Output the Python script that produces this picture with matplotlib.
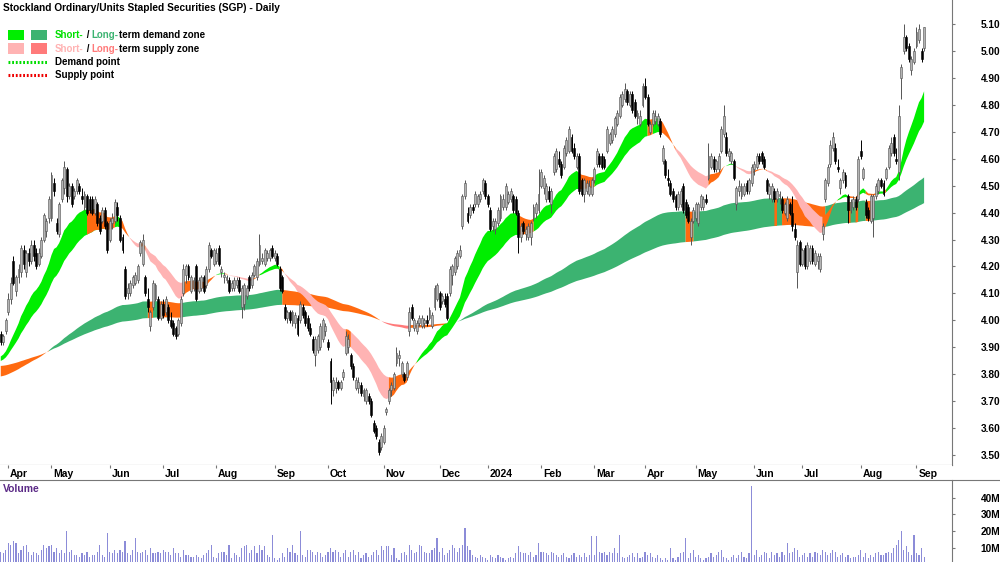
import numpy as np
import pandas as pd
import matplotlib
matplotlib.use("Agg")
import matplotlib.pyplot as plt
from matplotlib.patches import Rectangle
from matplotlib.lines import Line2D
from matplotlib.ticker import MultipleLocator, FormatStrFormatter

plt.rcParams['font.family'] = ['Liberation Sans', 'DejaVu Sans']
plt.rcParams['font.weight'] = 'bold'

# ============================================================
# data
# ============================================================
title = "Stockland Ordinary/Units Stapled Securities (SGP) - Daily"
first_day = "2023-03-29"
asx_holidays = ["2023-04-07", "2023-04-10", "2023-04-25", "2023-06-12",
                "2023-12-25", "2023-12-26", "2024-01-01", "2024-01-26",
                "2024-03-29", "2024-04-01", "2024-04-25", "2024-06-10"]

opens = [
    3.95, 3.92, 3.96, 4.03, 4.08, 4.22, 4.11, 4.16, 4.18, 4.26,
    4.18, 4.25, 4.22, 4.28, 4.25, 4.21, 4.24, 4.30, 4.33, 4.38,
    4.38, 4.51, 4.36, 4.32, 4.45, 4.49, 4.56, 4.46, 4.50, 4.46,
    4.48, 4.50, 4.46, 4.42, 4.46, 4.45, 4.45, 4.40, 4.43, 4.38,
    4.37, 4.41, 4.36, 4.30, 4.36, 4.37, 4.42, 4.38, 4.31, 4.19,
    4.10, 4.10, 4.13, 4.14, 4.15, 4.25, 4.21, 4.16, 4.08, 3.98,
    4.05, 4.08, 4.08, 4.01, 4.06, 4.03, 4.05, 4.00, 3.99, 3.97,
    3.95, 3.99, 4.10, 4.17, 4.20, 4.11, 4.12, 4.20, 4.11, 4.12,
    4.16, 4.13, 4.19, 4.26, 4.21, 4.22, 4.27, 4.18, 4.16, 4.15,
    4.15, 4.12, 4.12, 4.13, 4.15, 4.05, 4.06, 4.09, 4.16, 4.13,
    4.17, 4.16, 4.21, 4.22, 4.21, 4.23, 4.23, 4.27, 4.23, 4.24,
    4.19, 4.16, 4.05, 4.01, 4.03, 3.99, 3.99, 4.01, 4.00, 4.05,
    4.03, 4.01, 3.97, 3.93, 3.87, 3.89, 3.90, 3.93, 3.96, 3.92,
    3.85, 3.74, 3.75, 3.77, 3.75, 3.79, 3.88, 3.90, 3.87, 3.83,
    3.75, 3.75, 3.76, 3.72, 3.70, 3.72, 3.70, 3.62, 3.60, 3.55,
    3.53, 3.55, 3.66, 3.70, 3.74, 3.75, 3.84, 3.86, 3.80, 3.80,
    3.79, 3.96, 4.05, 3.97, 3.96, 3.99, 3.98, 3.99, 4.00, 4.01,
    3.98, 4.05, 4.08, 4.10, 4.07, 4.08, 4.09, 4.10, 4.17, 4.18,
    4.20, 4.24, 4.35, 4.46, 4.40, 4.39, 4.42, 4.43, 4.43, 4.45,
    4.48, 4.51, 4.46, 4.41, 4.35, 4.34, 4.36, 4.38, 4.42, 4.42,
    4.44, 4.45, 4.46, 4.45, 4.40, 4.31, 4.36, 4.32, 4.31, 4.31,
    4.38, 4.40, 4.41, 4.50, 4.49, 4.45, 4.48, 4.43, 4.55, 4.56,
    4.60, 4.58, 4.57, 4.62, 4.63, 4.68, 4.64, 4.57, 4.61, 4.52,
    4.47, 4.48, 4.47, 4.47, 4.52, 4.58, 4.61, 4.61, 4.60, 4.63,
    4.66, 4.67, 4.69, 4.73, 4.76, 4.80, 4.82, 4.85, 4.80, 4.84,
    4.81, 4.75, 4.73, 4.80, 4.87, 4.83, 4.70, 4.73, 4.74, 4.73,
    4.74, 4.59, 4.59, 4.53, 4.51, 4.48, 4.46, 4.42, 4.43, 4.50,
    4.44, 4.42, 4.31, 4.37, 4.38, 4.36, 4.42, 4.42, 4.45, 4.53,
    4.57, 4.60, 4.56, 4.56, 4.63, 4.69, 4.68, 4.61, 4.59, 4.59,
    4.43, 4.48, 4.46, 4.47, 4.51, 4.48, 4.51, 4.56, 4.57, 4.61,
    4.62, 4.60, 4.52, 4.47, 4.45, 4.48, 4.45, 4.46, 4.45, 4.40,
    4.38, 4.43, 4.40, 4.34, 4.18, 4.29, 4.21, 4.27, 4.20, 4.22,
    4.27, 4.21, 4.22, 4.19, 4.32, 4.45, 4.51, 4.58, 4.64, 4.64,
    4.57, 4.49, 4.52, 4.54, 4.46, 4.41, 4.42, 4.45, 4.45, 4.63,
    4.53, 4.44, 4.41, 4.37, 4.38, 4.46, 4.48, 4.52, 4.51, 4.53,
    4.57, 4.62, 4.68, 4.60, 4.55, 4.90, 5.00, 5.05, 5.02, 4.93,
    4.96, 5.02, 5.04, 5.00, 5.01,
]
highs = [
    3.96, 3.95, 4.01, 4.10, 4.16, 4.24, 4.17, 4.21, 4.28, 4.28,
    4.26, 4.27, 4.30, 4.30, 4.27, 4.27, 4.31, 4.40, 4.38, 4.46,
    4.55, 4.53, 4.38, 4.44, 4.53, 4.59, 4.57, 4.51, 4.51, 4.49,
    4.53, 4.51, 4.49, 4.48, 4.47, 4.46, 4.46, 4.46, 4.44, 4.39,
    4.42, 4.42, 4.37, 4.38, 4.40, 4.45, 4.44, 4.39, 4.32, 4.20,
    4.14, 4.15, 4.17, 4.18, 4.21, 4.30, 4.32, 4.17, 4.12, 4.04,
    4.15, 4.14, 4.09, 4.07, 4.08, 4.09, 4.06, 4.03, 4.00, 3.98,
    4.01, 4.09, 4.21, 4.21, 4.21, 4.17, 4.16, 4.21, 4.16, 4.17,
    4.17, 4.20, 4.29, 4.27, 4.27, 4.27, 4.28, 4.20, 4.18, 4.17,
    4.16, 4.15, 4.16, 4.16, 4.16, 4.13, 4.14, 4.13, 4.17, 4.18,
    4.21, 4.23, 4.32, 4.25, 4.27, 4.26, 4.27, 4.28, 4.26, 4.25,
    4.20, 4.17, 4.06, 4.04, 4.04, 4.04, 4.03, 4.02, 4.07, 4.06,
    4.04, 4.02, 3.99, 3.94, 3.94, 3.95, 3.99, 4.01, 3.99, 3.93,
    3.86, 3.79, 3.79, 3.78, 3.78, 3.82, 3.96, 3.95, 3.88, 3.84,
    3.79, 3.79, 3.77, 3.75, 3.75, 3.73, 3.71, 3.63, 3.61, 3.56,
    3.58, 3.61, 3.68, 3.75, 3.77, 3.81, 3.90, 3.89, 3.85, 3.81,
    3.85, 4.05, 4.06, 4.01, 4.00, 4.02, 4.02, 4.01, 4.02, 4.05,
    4.03, 4.13, 4.14, 4.11, 4.10, 4.10, 4.10, 4.20, 4.21, 4.24,
    4.26, 4.28, 4.47, 4.52, 4.42, 4.43, 4.43, 4.48, 4.47, 4.48,
    4.53, 4.52, 4.47, 4.42, 4.38, 4.38, 4.42, 4.47, 4.47, 4.51,
    4.48, 4.49, 4.47, 4.46, 4.41, 4.36, 4.37, 4.35, 4.36, 4.37,
    4.43, 4.44, 4.56, 4.56, 4.54, 4.51, 4.50, 4.49, 4.62, 4.64,
    4.63, 4.59, 4.65, 4.68, 4.72, 4.69, 4.66, 4.62, 4.62, 4.53,
    4.53, 4.52, 4.52, 4.53, 4.57, 4.64, 4.62, 4.62, 4.61, 4.72,
    4.70, 4.72, 4.76, 4.78, 4.84, 4.85, 4.88, 4.86, 4.85, 4.85,
    4.82, 4.78, 4.78, 4.88, 4.90, 4.84, 4.74, 4.78, 4.78, 4.77,
    4.75, 4.65, 4.60, 4.56, 4.52, 4.49, 4.47, 4.48, 4.49, 4.51,
    4.45, 4.43, 4.38, 4.42, 4.44, 4.44, 4.47, 4.46, 4.47, 4.66,
    4.62, 4.61, 4.60, 4.62, 4.72, 4.80, 4.70, 4.64, 4.63, 4.60,
    4.50, 4.52, 4.51, 4.51, 4.52, 4.53, 4.58, 4.59, 4.62, 4.62,
    4.63, 4.61, 4.53, 4.51, 4.51, 4.49, 4.49, 4.48, 4.46, 4.44,
    4.46, 4.44, 4.46, 4.36, 4.30, 4.30, 4.27, 4.28, 4.29, 4.28,
    4.28, 4.26, 4.25, 4.25, 4.36, 4.53, 4.58, 4.67, 4.70, 4.66,
    4.60, 4.53, 4.56, 4.55, 4.47, 4.45, 4.46, 4.46, 4.61, 4.67,
    4.57, 4.45, 4.42, 4.47, 4.47, 4.51, 4.53, 4.53, 4.52, 4.57,
    4.65, 4.68, 4.69, 4.64, 4.80, 4.95, 5.10, 5.06, 5.03, 4.98,
    5.01, 5.09, 5.10, 5.01, 5.09,
]
lows = [
    3.91, 3.91, 3.95, 4.02, 4.06, 4.13, 4.09, 4.14, 4.16, 4.19,
    4.16, 4.20, 4.21, 4.22, 4.19, 4.20, 4.23, 4.29, 4.31, 4.36,
    4.37, 4.46, 4.32, 4.31, 4.44, 4.47, 4.44, 4.45, 4.42, 4.45,
    4.47, 4.47, 4.43, 4.41, 4.39, 4.40, 4.39, 4.39, 4.35, 4.32,
    4.36, 4.34, 4.25, 4.29, 4.34, 4.36, 4.37, 4.29, 4.25, 4.08,
    4.08, 4.09, 4.12, 4.13, 4.14, 4.24, 4.20, 4.09, 4.03, 3.96,
    4.04, 4.07, 4.00, 4.00, 4.01, 4.02, 3.99, 3.97, 3.94, 3.93,
    3.94, 3.98, 4.09, 4.14, 4.15, 4.10, 4.11, 4.07, 4.10, 4.11,
    4.10, 4.12, 4.18, 4.23, 4.20, 4.21, 4.20, 4.16, 4.14, 4.14,
    4.10, 4.11, 4.11, 4.12, 4.10, 4.01, 4.04, 4.08, 4.11, 4.12,
    4.16, 4.15, 4.20, 4.21, 4.20, 4.22, 4.22, 4.23, 4.22, 4.20,
    4.11, 4.10, 4.00, 3.99, 3.99, 3.98, 3.97, 3.94, 3.99, 4.01,
    3.98, 3.96, 3.94, 3.88, 3.83, 3.88, 3.89, 3.92, 3.94, 3.89,
    3.69, 3.72, 3.73, 3.74, 3.74, 3.78, 3.87, 3.88, 3.82, 3.78,
    3.74, 3.73, 3.72, 3.70, 3.69, 3.69, 3.64, 3.58, 3.56, 3.50,
    3.52, 3.54, 3.65, 3.69, 3.72, 3.74, 3.83, 3.83, 3.79, 3.77,
    3.78, 3.94, 4.00, 3.96, 3.95, 3.98, 3.97, 3.97, 3.98, 4.00,
    3.97, 4.04, 4.07, 4.04, 4.06, 4.05, 4.00, 4.09, 4.13, 4.17,
    4.19, 4.23, 4.34, 4.45, 4.36, 4.38, 4.40, 4.42, 4.42, 4.44,
    4.47, 4.45, 4.42, 4.33, 4.33, 4.32, 4.35, 4.37, 4.41, 4.41,
    4.43, 4.44, 4.40, 4.39, 4.25, 4.29, 4.32, 4.30, 4.30, 4.28,
    4.37, 4.38, 4.40, 4.49, 4.47, 4.44, 4.44, 4.40, 4.54, 4.55,
    4.57, 4.53, 4.56, 4.61, 4.62, 4.62, 4.60, 4.56, 4.47, 4.46,
    4.44, 4.47, 4.46, 4.46, 4.51, 4.57, 4.57, 4.56, 4.56, 4.62,
    4.65, 4.66, 4.68, 4.72, 4.75, 4.79, 4.81, 4.80, 4.79, 4.77,
    4.75, 4.73, 4.72, 4.79, 4.82, 4.72, 4.69, 4.72, 4.73, 4.72,
    4.68, 4.58, 4.53, 4.50, 4.46, 4.44, 4.41, 4.41, 4.42, 4.40,
    4.38, 4.36, 4.28, 4.36, 4.37, 4.35, 4.41, 4.41, 4.43, 4.52,
    4.56, 4.55, 4.55, 4.55, 4.62, 4.68, 4.61, 4.59, 4.58, 4.52,
    4.41, 4.46, 4.45, 4.46, 4.47, 4.47, 4.50, 4.54, 4.56, 4.58,
    4.58, 4.56, 4.47, 4.45, 4.44, 4.44, 4.44, 4.43, 4.40, 4.39,
    4.37, 4.39, 4.33, 4.30, 4.12, 4.20, 4.20, 4.19, 4.19, 4.21,
    4.21, 4.20, 4.19, 4.18, 4.30, 4.44, 4.50, 4.57, 4.63, 4.58,
    4.55, 4.47, 4.51, 4.49, 4.36, 4.40, 4.41, 4.41, 4.44, 4.60,
    4.52, 4.38, 4.37, 4.36, 4.31, 4.45, 4.47, 4.49, 4.46, 4.52,
    4.56, 4.61, 4.61, 4.58, 4.52, 4.82, 4.99, 5.00, 4.96, 4.91,
    4.95, 5.01, 5.03, 4.96, 5.00,
]
closes = [
    3.92, 3.94, 4.00, 4.08, 4.14, 4.14, 4.16, 4.19, 4.27, 4.21,
    4.25, 4.22, 4.28, 4.24, 4.20, 4.25, 4.30, 4.39, 4.37, 4.45,
    4.54, 4.48, 4.33, 4.43, 4.52, 4.57, 4.46, 4.50, 4.43, 4.48,
    4.52, 4.48, 4.45, 4.47, 4.40, 4.41, 4.40, 4.45, 4.36, 4.33,
    4.41, 4.35, 4.26, 4.37, 4.38, 4.44, 4.39, 4.30, 4.26, 4.09,
    4.12, 4.14, 4.16, 4.17, 4.20, 4.29, 4.30, 4.10, 4.05, 4.03,
    4.14, 4.13, 4.01, 4.06, 4.02, 4.08, 4.00, 3.98, 3.95, 3.94,
    4.00, 4.08, 4.19, 4.20, 4.16, 4.16, 4.15, 4.08, 4.15, 4.16,
    4.11, 4.19, 4.28, 4.24, 4.26, 4.25, 4.21, 4.19, 4.17, 4.16,
    4.11, 4.14, 4.15, 4.15, 4.11, 4.12, 4.13, 4.12, 4.12, 4.17,
    4.20, 4.22, 4.28, 4.23, 4.26, 4.25, 4.26, 4.24, 4.25, 4.21,
    4.12, 4.11, 4.01, 4.03, 4.00, 4.03, 4.02, 3.95, 4.06, 4.02,
    3.99, 3.97, 3.95, 3.89, 3.93, 3.94, 3.98, 4.00, 3.98, 3.90,
    3.77, 3.78, 3.77, 3.75, 3.77, 3.81, 3.94, 3.93, 3.83, 3.79,
    3.78, 3.77, 3.73, 3.74, 3.74, 3.70, 3.65, 3.59, 3.57, 3.51,
    3.57, 3.60, 3.67, 3.74, 3.76, 3.80, 3.88, 3.87, 3.84, 3.78,
    3.84, 4.03, 4.01, 4.00, 3.99, 4.01, 4.01, 4.00, 3.99, 4.04,
    4.02, 4.12, 4.13, 4.05, 4.09, 4.06, 4.01, 4.19, 4.20, 4.23,
    4.25, 4.26, 4.46, 4.51, 4.37, 4.42, 4.41, 4.47, 4.46, 4.47,
    4.52, 4.46, 4.43, 4.34, 4.37, 4.37, 4.41, 4.46, 4.45, 4.50,
    4.47, 4.48, 4.41, 4.40, 4.31, 4.35, 4.33, 4.34, 4.35, 4.36,
    4.42, 4.43, 4.47, 4.55, 4.53, 4.50, 4.45, 4.48, 4.61, 4.63,
    4.58, 4.54, 4.64, 4.67, 4.71, 4.63, 4.61, 4.61, 4.48, 4.47,
    4.52, 4.51, 4.50, 4.52, 4.56, 4.63, 4.58, 4.57, 4.57, 4.71,
    4.69, 4.71, 4.75, 4.77, 4.83, 4.84, 4.86, 4.81, 4.84, 4.78,
    4.76, 4.77, 4.76, 4.87, 4.83, 4.73, 4.73, 4.77, 4.76, 4.76,
    4.69, 4.64, 4.54, 4.52, 4.47, 4.45, 4.42, 4.47, 4.48, 4.41,
    4.39, 4.37, 4.37, 4.41, 4.43, 4.43, 4.46, 4.45, 4.44, 4.61,
    4.61, 4.56, 4.59, 4.61, 4.71, 4.76, 4.62, 4.63, 4.62, 4.53,
    4.49, 4.50, 4.50, 4.50, 4.48, 4.52, 4.57, 4.58, 4.61, 4.59,
    4.59, 4.57, 4.48, 4.50, 4.50, 4.45, 4.48, 4.47, 4.41, 4.43,
    4.45, 4.40, 4.35, 4.31, 4.28, 4.21, 4.26, 4.20, 4.28, 4.27,
    4.22, 4.25, 4.24, 4.24, 4.35, 4.52, 4.57, 4.65, 4.68, 4.59,
    4.56, 4.52, 4.55, 4.50, 4.41, 4.44, 4.45, 4.42, 4.60, 4.61,
    4.56, 4.39, 4.38, 4.46, 4.46, 4.50, 4.52, 4.50, 4.47, 4.56,
    4.64, 4.66, 4.62, 4.59, 4.76, 4.94, 5.05, 5.01, 4.97, 4.97,
    5.00, 5.07, 5.08, 4.97, 5.09,
]
# daily volume, millions of shares
volume_m = [
    8, 7, 9, 13, 12, 14, 13, 7, 9, 11,
    12, 8, 6, 8, 7, 6, 9, 12, 10, 11,
    12, 8, 10, 7, 9, 7, 20, 8, 9, 6,
    6, 5, 7, 6, 8, 5, 6, 6, 8, 12,
    6, 5, 19, 8, 7, 9, 7, 9, 8, 14,
    7, 6, 9, 16, 8, 7, 8, 9, 6, 10,
    7, 7, 8, 7, 9, 8, 8, 6, 10, 7,
    7, 5, 9, 6, 6, 5, 5, 6, 5, 4,
    6, 7, 9, 12, 5, 4, 7, 8, 8, 6,
    12, 4, 7, 6, 5, 10, 11, 12, 7, 9,
    11, 7, 12, 9, 11, 6, 5, 18, 4, 3,
    4, 7, 5, 10, 8, 12, 7, 6, 20, 6,
    5, 9, 9, 8, 6, 8, 7, 5, 6, 8,
    10, 8, 9, 8, 5, 7, 9, 5, 8, 9,
    6, 8, 4, 6, 7, 5, 6, 8, 9, 6,
    11, 9, 11, 11, 6, 10, 4, 3, 7, 8,
    6, 12, 9, 7, 8, 12, 11, 8, 7, 7,
    9, 10, 16, 8, 10, 6, 7, 9, 12, 10,
    8, 10, 12, 22, 11, 9, 6, 5, 4, 6,
    5, 4, 3, 6, 5, 4, 6, 5, 4, 3,
    4, 5, 4, 7, 11, 8, 7, 7, 6, 8,
    5, 6, 13, 8, 8, 7, 6, 8, 7, 6,
    5, 6, 7, 5, 4, 6, 7, 5, 6, 5,
    7, 5, 6, 17, 6, 17, 8, 7, 8, 6,
    8, 7, 10, 7, 18, 5, 4, 5, 6, 7,
    5, 7, 4, 5, 8, 6, 7, 5, 4, 6,
    4, 3, 4, 3, 10, 4, 3, 5, 7, 8,
    16, 4, 7, 9, 5, 6, 4, 3, 4, 5,
    7, 5, 6, 8, 9, 5, 4, 3, 5, 6,
    4, 6, 8, 5, 4, 7, 47, 6, 9, 5,
    6, 8, 7, 4, 8, 6, 7, 5, 8, 6,
    13, 7, 8, 10, 9, 5, 6, 7, 5, 7,
    5, 8, 7, 6, 9, 8, 6, 7, 9, 8,
    5, 6, 7, 5, 6, 4, 5, 5, 6, 9,
    5, 7, 4, 6, 5, 7, 8, 6, 6, 7,
    8, 7, 10, 12, 15, 20, 9, 11, 8, 6,
    18, 7, 6, 10, 5,
]
volume_ticks = [10, 20, 30, 40]
volume_tick_labels = ["10M", "20M", "30M", "40M"]

# zone settings: EMA spans and their values on the first bar
short_spans = (20, 35)
long_spans = (150, 250)
short_start = (3.86, 3.845)
long_start = (3.79, 3.83)

# colours
C_SHORT_UP = '#00EE00'
C_LONG_UP = '#3CB371'
C_SHORT_DN = '#FFB3B3'
C_LONG_DN = '#FF7A7A'
C_MIXED = '#FF6A10'


def ema(values, span, start):
    a = 2.0 / (span + 1)
    out = np.empty(len(values))
    prev = start
    for i, v in enumerate(values):
        prev = prev + a * (v - prev)
        out[i] = prev
    return out


def zone(ax, x, closes, spans, starts, up_col, dn_col):
    fast = ema(closes, spans[0], starts[0])
    slow = ema(closes, spans[1], starts[1])
    prev_fast = np.r_[starts[0], fast[:-1]]
    rising = fast > prev_fast
    above = fast >= slow
    cat = np.where(above & rising, 0, np.where(~above & ~rising, 1, 2))
    for k, col in [(0, up_col), (1, dn_col), (2, C_MIXED)]:
        m = cat == k
        m2 = m.copy()
        m2[1:] |= m[:-1]
        ax.fill_between(x, fast, slow, where=m2, color=col, lw=0, zorder=1)


o = np.array(opens)
h = np.array(highs)
l = np.array(lows)
c = np.array(closes)
v = np.array(volume_m)
n = len(c)
x = np.arange(n)
dates = pd.bdate_range(start=first_day, periods=n, freq='C', holidays=asx_holidays)

# ============================================================
# figure layout (pixel boxes on a 1000x562 canvas)
# ============================================================
W, H = 1000, 562
fig = plt.figure(figsize=(W / 100, H / 100), dpi=100)


def box(x0, y0, x1, y1):
    return [x0 / W, 1 - y1 / H, (x1 - x0) / W, (y1 - y0) / H]


ax = fig.add_axes(box(0, 0, 952, 465))
ax_d = fig.add_axes(box(0, 465, 952, 480), sharex=ax)
ax_v = fig.add_axes(box(0, 480, 952, 565), sharex=ax)

# zones
zone(ax, x, c, long_spans, long_start, C_LONG_UP, C_LONG_DN)
zone(ax, x, c, short_spans, short_start, C_SHORT_UP, C_SHORT_DN)

# candles
up = c >= o
ax.vlines(x, l, h, colors=np.where(up, '#555555', '#000000'), linewidth=0.7, zorder=3)
ax.bar(x, np.maximum(np.abs(c - o), 0.004), bottom=np.minimum(o, c), width=0.75,
       color=np.where(up, '#B4B4B4', '#000000'),
       edgecolor=np.where(up, '#505050', '#000000'), linewidth=0.4, zorder=4)

ax.set_xlim(-0.3, 375)
ax.set_ylim(3.463, 5.189)
ax.yaxis.tick_right()
ax.yaxis.set_major_locator(MultipleLocator(0.1))
ax.yaxis.set_major_formatter(FormatStrFormatter('%.2f'))
ax.tick_params(axis='y', direction='out', length=2.5, width=0.8, color='#777777',
               pad=18, labelsize=7.3)
ax.tick_params(axis='x', bottom=False, labelbottom=False)
for s in ['top', 'left']:
    ax.spines[s].set_visible(False)
for s in ['right', 'bottom']:
    ax.spines[s].set_color('#777777')
    ax.spines[s].set_linewidth(0.8)

# date band
s = pd.Series(dates.to_period('M'))
month_start = np.where(s.values != s.shift().values)[0]
month_start = month_start[month_start > 0]
ax_d.set_xticks(month_start)
ax_d.tick_params(axis='x', direction='in', top=True, bottom=False, length=2.5,
                 color='#777777', labelbottom=False, labeltop=False)
ax_d.set_yticks([])
for sp in ax_d.spines.values():
    sp.set_visible(False)
for p in month_start:
    d = dates[p]
    lab = str(d.year) if d.month == 1 else d.strftime('%b')
    ax_d.text(p + 0.7, 0.42, lab, transform=ax_d.get_xaxis_transform(),
              ha='left', va='center', fontsize=7.5)

# volume
ax_v.bar(x, v, width=0.45, color='#8C8CD8', linewidth=0)
ax_v.set_ylim(0, 50.4)
ax_v.yaxis.tick_right()
ax_v.set_yticks(volume_ticks)
ax_v.set_yticklabels(volume_tick_labels)
ax_v.tick_params(axis='y', direction='out', length=2.5, width=0.8, color='#777777',
                 pad=18, labelsize=7.3)
ax_v.tick_params(axis='x', bottom=False, labelbottom=False)
for s_ in ['top', 'left', 'bottom']:
    ax_v.spines[s_].set_visible(False)
ax_v.spines['right'].set_color('#777777')
ax_v.spines['right'].set_linewidth(0.8)
ax_v.text(0.003, 0.894, "Volume", transform=ax_v.transAxes, color='#5B2A86',
          fontsize=7.5, va='center', ha='left')

fig.add_artist(Line2D([0, 1], [1 - 480 / H] * 2, transform=fig.transFigure,
                      color='#777777', lw=0.8))

# title and legend
fig.text(3 / W, 1 - 8 / H, title, ha='left', va='center', fontsize=7.3)

legend_rows = [
    ([C_SHORT_UP, C_LONG_UP], [("Short-", '#00E000'), (" / ", 'black'),
                               ("Long-", C_LONG_UP), ("term demand zone", 'black')]),
    ([C_SHORT_DN, C_LONG_DN], [("Short-", C_SHORT_DN), (" / ", 'black'),
                               ("Long-", C_LONG_DN), ("term supply zone", 'black')]),
]
for r, (cols, parts) in enumerate(legend_rows):
    yc = 35 + r * 13.5
    for j, col in enumerate(cols):
        fig.add_artist(Rectangle(((8 + 23 * j) / W, 1 - (yc + 5) / H), 16 / W, 10 / H,
                                 transform=fig.transFigure, color=col, lw=0))
    t = fig.text(55 / W, 1 - yc / H, parts[0][0], color=parts[0][1],
                 ha='left', va='center', fontsize=7)
    for txt, col in parts[1:]:
        t = ax.annotate(txt, xy=(1, 0), xycoords=t, ha='left', va='bottom',
                        color=col, fontsize=7, annotation_clip=False)

for r, (lab, col) in enumerate([("Demand point", '#00DD00'), ("Supply point", '#EE0000')]):
    yc = 62 + r * 13
    fig.add_artist(Line2D([8 / W, 48 / W], [1 - yc / H] * 2, transform=fig.transFigure,
                          color=col, lw=2.2, dashes=(0.6, 0.6)))
    fig.text(55 / W, 1 - yc / H, lab, ha='left', va='center', fontsize=7)

fig.savefig('out.png', dpi=100)
